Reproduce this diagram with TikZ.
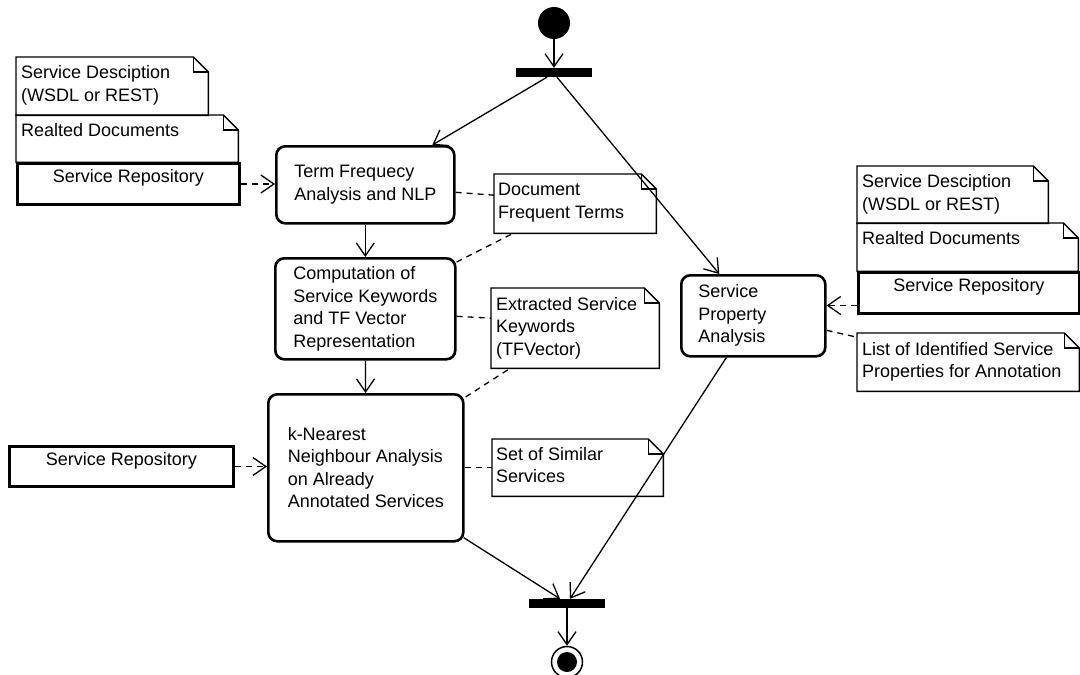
\documentclass[tikz,border=0pt]{standalone}
\usepackage{fontspec}
\setmainfont{Liberation Sans}
\usetikzlibrary{arrows.meta}

% outline of a UML note with a folded top-right corner
\newcommand\dogear[1]{%
  \draw[notebox] (#1.north west) -- ([xshift=-15pt]#1.north east)
    -- ([yshift=-15pt]#1.north east) -- (#1.south east) -- (#1.south west) -- cycle;
  \draw[notebox] ([xshift=-15pt]#1.north east) |- ([yshift=-15pt]#1.north east);}

\begin{document}
\begin{tikzpicture}[x=1pt,y=-1pt,
  txt/.style={font=\fontsize{18}{22.5}\selectfont},
  action/.style={txt, draw, line width=2.6pt, rounded corners=9pt, align=left,
    anchor=north west, inner sep=0pt},
  frame/.style={rectangle, anchor=north west, inner sep=0pt},
  notebox/.style={line width=1.4pt},
  repo/.style={frame, draw, line width=3pt},
  notetext/.style={txt, align=left, anchor=north west, inner sep=0pt},
  repotext/.style={txt, anchor=north, inner sep=0pt},
  flow/.style={line width=1.3pt, -{Straight Barb[length=13pt,width=18pt]}},
  dep/.style={flow, dash pattern=on 6pt off 5pt},
  link/.style={line width=1.3pt, dash pattern=on 6pt off 5pt},
  bar/.style={fill, rectangle, inner sep=0pt, minimum width=76pt, minimum height=9pt},
]
\clip (0,0) rectangle (1080,675);
\fill[white] (0,0) rectangle (1080,675);

% ---- initial node, fork, join, final node
\node[circle, fill, minimum size=32pt, inner sep=0pt] (start) at (554,23) {};
\node[bar] (fork) at (554,72.5) {};
\node[bar] (join) at (567,603.5) {};
\node[circle, draw, line width=1.5pt, minimum size=31pt, inner sep=0pt,
  path picture={\fill (path picture bounding box.center) circle (10pt);}] (stop) at (567,662) {};

% ---- activities
\node[action, minimum width=178pt, minimum height=77pt] (term) at (275,145)
  {Term Frequecy\\Analysis and NLP};
\node[action, minimum width=180pt, minimum height=101pt] (comp) at (274,257)
  {Computation of\\Service Keywords\\and TF Vector\\Representation};
\node[action, minimum width=195pt, minimum height=147pt] (k) at (267,393)
  {k-Nearest\\Neighbour Analysis\\on Already\\Annotated Services};
\node[action, text width=110pt, inner xsep=17pt, minimum height=81pt] (spa) at (680,274)
  {Service\\Property\\Analysis};

% ---- inputs on the left
\node[frame, minimum width=192pt, minimum height=58pt] (sd1) at (16,57) {};
\dogear{sd1}
\node[notetext] (sd1t) at ([xshift=5pt,yshift=-8.5pt]sd1.north west) {Service Desciption\\(WSDL or REST)};
\node[frame, minimum width=222pt, minimum height=47pt] (rd1) at (16,115) {};
\dogear{rd1}
\node[notetext] (rd1t) at ([xshift=5pt,yshift=-8pt]rd1.north west) {Realted Documents};
\node[repo, minimum width=222pt, minimum height=41pt] (sr1) at (16,162) {};
\node[repotext] (sr1t) at ([yshift=-7pt]sr1.north) {Service Repository};

\node[repo, minimum width=224pt, minimum height=40pt] (sr3) at (8,445) {};
\node[repotext] (sr3t) at ([yshift=-7pt]sr3.north) {Service Repository};

% ---- inputs on the right
\node[frame, minimum width=191pt, minimum height=57pt] (sd2) at (857,166) {};
\dogear{sd2}
\node[notetext] (sd2t) at ([xshift=5pt,yshift=-8.5pt]sd2.north west) {Service Desciption\\(WSDL or REST)};
\node[frame, minimum width=221pt, minimum height=48pt] (rd2) at (857,223) {};
\dogear{rd2}
\node[notetext] (rd2t) at ([xshift=5pt,yshift=-8pt]rd2.north west) {Realted Documents};
\node[repo, minimum width=221pt, minimum height=41pt] (sr2) at (857,271) {};
\node[repotext] (sr2t) at ([yshift=-7pt]sr2.north) {Service Repository};

\node[frame, minimum width=222pt, minimum height=58pt] (lst) at (857,333) {};
\dogear{lst}
\node[notetext] (lstt) at ([xshift=5pt,yshift=-9pt]lst.north west) {List of Identified Service\\Properties for Annotation};

% ---- intermediate results
\node[frame, minimum width=162pt, minimum height=59pt] (doc) at (494,174) {};
\dogear{doc}
\node[notetext] (doct) at ([xshift=4pt,yshift=-9pt]doc.north west) {Document\\Frequent Terms};
\node[frame, minimum width=168pt, minimum height=80pt] (ext) at (491,288) {};
\dogear{ext}
\node[notetext] (extt) at ([xshift=5pt,yshift=-9pt]ext.north west) {Extracted Service\\Keywords\\(TFVector)};
\node[frame, minimum width=171pt, minimum height=57pt] (sim) at (492,439) {};
\dogear{sim}
\node[notetext] (simt) at ([xshift=4pt,yshift=-8pt]sim.north west) {Set of Similar\\Services};

% ---- control flow
\draw[flow] (start) -- (fork);
\draw[flow] ([xshift=-7pt]fork.south) -- ([xshift=67pt]term.north);
\draw[flow] ([xshift=3pt]fork.south) -- ([xshift=-34pt]spa.north);
\draw[flow] (term) -- (comp);
\draw[flow] (comp) -- (k);
\draw[flow] ([xshift=-27pt]spa.south) -- ([xshift=3pt]join.north);
\draw[flow] ([xshift=-1pt,yshift=5pt]k.south east) -- ([xshift=-7pt]join.north);
\draw[flow] (join) -- (stop);

% ---- object flow
\draw[dep] (sr1.east) -- (sr1.east -| term.west);
\draw[dep] (sr3.east) -- (sr3.east -| k.west);
\coordinate (srin) at ([yshift=-12.5pt]sr2.west);
\draw[dep] (srin) -- (srin -| spa.east);
\draw[link] ([yshift=-7.5pt]term.east) -- ([yshift=8.5pt]doc.west);
\draw[link] ([yshift=-5pt]comp.north east) -- ([xshift=19pt]doc.south west);
\draw[link] ([yshift=-7.5pt]comp.east) -- ([yshift=10pt]ext.west);
\draw[link] ([xshift=1pt,yshift=-4pt]k.north east) -- ([xshift=19pt]ext.south west);
\draw[link] (k.east) -- (k.east -| sim.west);
\draw[link] ([yshift=-14.5pt]spa.east) -- ([yshift=25pt]lst.west);
\end{tikzpicture}
\end{document}
